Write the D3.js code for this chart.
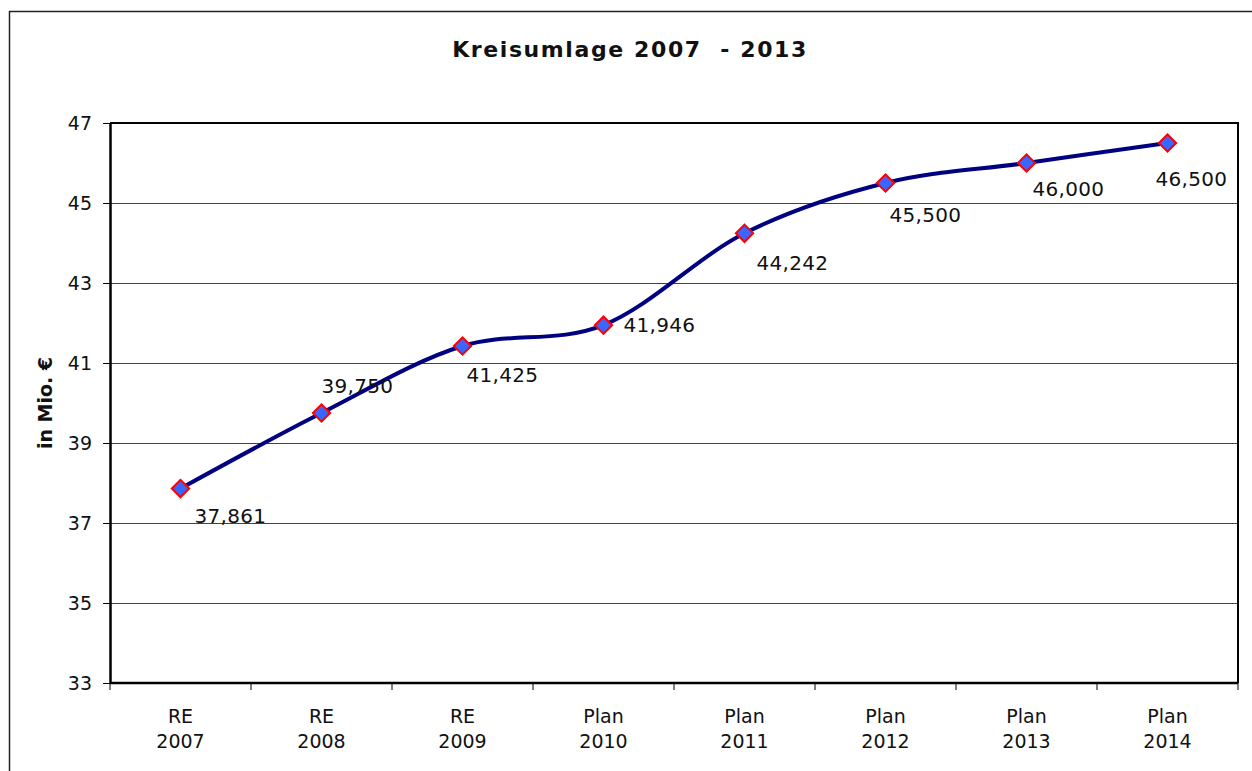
<!DOCTYPE html>
<html>
<head>
<meta charset="utf-8">
<script src="https://cdn.jsdelivr.net/npm/d3@7"></script>
<style>
  body { margin: 0; background: #fff; }
  svg text { font-family: "DejaVu Sans", Verdana, sans-serif; fill: #111; }
</style>
</head>
<body>
<svg id="chart" width="1252" height="771"></svg>
<script>
// categories (two lines each) and values in Mio. €
const catKind = ["RE", "RE", "RE", "Plan", "Plan", "Plan", "Plan", "Plan"];
const catYear = ["2007", "2008", "2009", "2010", "2011", "2012", "2013", "2014"];
const values = [37.861, 39.750, 41.425, 41.946, 44.242, 45.500, 46.000, 46.500];
const valueLabels = ["37,861", "39,750", "41,425", "41,946", "44,242", "45,500", "46,000", "46,500"];
const yTicks = [33, 35, 37, 39, 41, 43, 45, 47];

const svg = d3.select("#chart");
const margin = {top: 123, right: 14, bottom: 88, left: 110};
const width = 1252 - margin.left - margin.right;
const height = 771 - margin.top - margin.bottom;

// outer frame
svg.append("rect")
    .attr("x", 9.5).attr("y", 11.5)
    .attr("width", 1260).attr("height", 800)
    .attr("fill", "none").attr("stroke", "#222").attr("stroke-width", 1.5);

// title
svg.append("text")
    .attr("x", 630).attr("y", 57)
    .attr("text-anchor", "middle")
    .style("font-size", "22px").style("font-weight", "bold")
    .style("white-space", "pre").style("letter-spacing", "1.6px")
    .text("Kreisumlage 2007  - 2013");

const g = svg.append("g").attr("transform", `translate(${margin.left},${margin.top})`);

const x = d3.scaleBand().domain(catYear).range([0, width]).padding(0);
const y = d3.scaleLinear().domain([33, 47]).range([height, 0]);

// gridlines
g.append("g")
    .call(d3.axisLeft(y).tickValues(yTicks).tickSize(-width).tickFormat(""))
    .call(a => a.select(".domain").remove())
    .call(a => a.selectAll("line").attr("stroke", "#444").attr("stroke-width", 1));

// plot border top/right
g.append("path")
    .attr("d", `M0,0H${width}V${height}`)
    .attr("fill", "none").attr("stroke", "#000").attr("stroke-width", 2);

// y axis
const yAxis = g.append("g")
    .call(d3.axisLeft(y).tickValues(yTicks).tickSize(7).tickPadding(11).tickSizeOuter(0));
yAxis.select(".domain").attr("stroke", "#000").attr("stroke-width", 2.5);
yAxis.selectAll(".tick line").attr("stroke", "#000");
yAxis.selectAll(".tick text")
    .style("font-size", "19px").style("font-family", "DejaVu Sans, sans-serif").attr("fill", "#111");

// x axis line and ticks at category boundaries
const bounds = catYear.map(c => x(c)).concat([x.range()[1]]);
g.append("line")
    .attr("x1", 0).attr("x2", width).attr("y1", height).attr("y2", height)
    .attr("stroke", "#000").attr("stroke-width", 2.5);
g.selectAll(".xtick")
    .data(bounds)
    .join("line")
    .attr("class", "xtick")
    .attr("x1", d => d).attr("x2", d => d)
    .attr("y1", height).attr("y2", height + 7)
    .attr("stroke", "#000");

// x labels
const xl = g.selectAll(".xlab")
    .data(catYear)
    .join("text")
    .attr("class", "xlab")
    .attr("text-anchor", "middle")
    .style("font-size", "19px");
xl.append("tspan")
    .attr("x", d => x(d) + x.bandwidth() / 2).attr("y", height + 40)
    .text((d, i) => catKind[i]);
xl.append("tspan")
    .attr("x", d => x(d) + x.bandwidth() / 2).attr("y", height + 65)
    .text(d => d);

// y axis title
svg.append("text")
    .attr("transform", "translate(52,403) rotate(-90)")
    .attr("text-anchor", "middle")
    .style("font-size", "19px").style("font-weight", "bold")
    .text("in Mio. €");

// line
const cx = (d, i) => x(catYear[i]) + x.bandwidth() / 2;
const line = d3.line()
    .x(cx)
    .y(d => y(d))
    .curve(d3.curveCatmullRom.alpha(0));
g.append("path")
    .datum(values)
    .attr("d", line)
    .attr("fill", "none")
    .attr("stroke", "#000080")
    .attr("stroke-width", 4);

// markers
const diamond = d3.symbol().type(d3.symbolSquare).size(150);
g.selectAll(".marker")
    .data(values)
    .join("path")
    .attr("class", "marker")
    .attr("d", diamond)
    .attr("transform", (d, i) => `translate(${cx(d, i)},${y(d)}) rotate(45)`)
    .attr("fill", "#3a66ff")
    .attr("stroke", "#ff0000")
    .attr("stroke-width", 2);

// value labels, placed around the markers as in the original
const labelOffsets = [[14, 27], [0, -27], [4, 29], [20, 0], [12, 29], [4, 32], [6, 26], [-12, 36]];
g.selectAll(".vlab")
    .data(values)
    .join("text")
    .attr("class", "vlab")
    .attr("x", (d, i) => cx(d, i) + labelOffsets[i][0])
    .attr("y", (d, i) => y(d) + labelOffsets[i][1])
    .attr("dy", "0.36em")
    .style("font-size", "20px")
    .style("letter-spacing", "0.3px")
    .text((d, i) => valueLabels[i]);
</script>
</body>
</html>
